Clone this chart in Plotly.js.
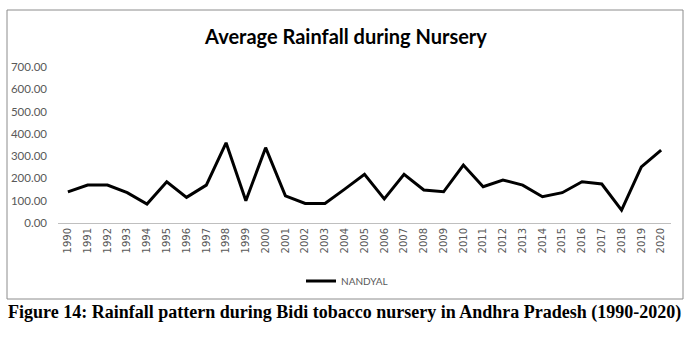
<!DOCTYPE html>
<html>
<head>
<meta charset="utf-8">
<script src="https://cdn.plot.ly/plotly-3.0.1.min.js"></script>
<style>html,body{margin:0;padding:0;background:#fff;}#chart{width:692px;height:339px;}</style>
</head>
<body>
<div id="chart"></div>
<script>
const years = ["1990","1991","1992","1993","1994","1995","1996","1997","1998","1999","2000","2001","2002","2003","2004","2005","2006","2007","2008","2009","2010","2011","2012","2013","2014","2015","2016","2017","2018","2019","2020"];
const nandyal = [140,170,170,136,85,185,115,170,360,100,338,122,88,88,152,218,108,218,148,140,260,163,193,170,118,136,185,175,58,252,327];
const yTicks = [0,100,200,300,400,500,600,700];
const yTickText = yTicks.map(v => v.toFixed(2));
const seriesName = "NANDYAL";
const chartTitle = "Average Rainfall during Nursery";
const caption = "Figure 14: Rainfall pattern during Bidi tobacco nursery in Andhra Pradesh (1990-2020)";

const trace = {
  x: years, y: nandyal, type: 'scatter', mode: 'lines', name: seriesName,
  line: {color: '#000000', width: 3}
};
const layout = {
  width: 692, height: 339,
  margin: {l: 58, r: 21, t: 67, b: 116},
  paper_bgcolor: '#ffffff', plot_bgcolor: '#ffffff',
  title: {text: chartTitle, x: 0.5, xanchor: 'center', y: 1 - 37/339, yanchor: 'middle',
          font: {family: 'Lato, sans-serif', size: 20, weight: 'bold', color: '#000000'}},
  xaxis: {type: 'category', range: [-0.5, 30.5], showgrid: false, zeroline: false,
          showline: true, linecolor: '#bfbfbf', linewidth: 1, ticks: '',
          tickangle: -90, tickfont: {family: 'DejaVu Sans, sans-serif', size: 10, color: '#595959'}},
  yaxis: {range: [0, 700], tickvals: yTicks, ticktext: yTickText, showgrid: false, zeroline: false,
          showline: false, ticks: '', ticklabelstandoff: 10,
          tickfont: {family: 'Lato, sans-serif', size: 11.5, color: '#595959'}},
  showlegend: true,
  legend: {orientation: 'h', x: (347-58)/613, xanchor: 'center', y: (223-281)/156, yanchor: 'middle',
           font: {family: 'Lato, sans-serif', size: 10, color: '#595959'}, bgcolor: 'rgba(0,0,0,0)'},
  shapes: [{type: 'rect', xref: 'paper', yref: 'paper',
            x0: (7-58)/613, x1: (683-58)/613, y0: (223-299)/156, y1: (223-10)/156,
            line: {color: '#8c8c8c', width: 1}, fillcolor: 'rgba(0,0,0,0)', layer: 'below'}],
  annotations: [{text: '<b>' + caption + '</b>', xref: 'paper', yref: 'paper',
                 x: (344-58)/613, y: (223-312)/156, xanchor: 'center', yanchor: 'middle', showarrow: false,
                 font: {family: 'Liberation Serif, Times New Roman, serif', size: 18, color: '#000000'}}]
};
Plotly.newPlot('chart', [trace], layout, {displayModeBar: false, staticPlot: true});
</script>
</body>
</html>
